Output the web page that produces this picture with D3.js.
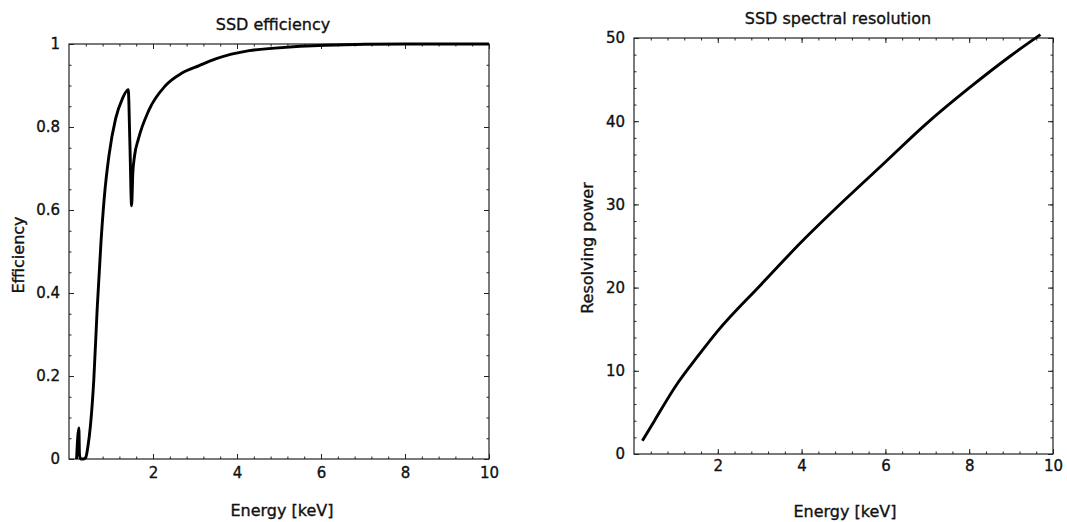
<!DOCTYPE html>
<meta charset="utf-8">
<style>
body { margin: 0; background: #fff; }
svg text { font-family: "DejaVu Sans", sans-serif; fill: #111; stroke: #111; stroke-width: 0.35px; }
.axis path { display: none; }
.axis line { stroke: #222; stroke-width: 1px; }
.axis text { font-size: 15px; }
.frame { fill: none; stroke: #222; stroke-width: 1.2px; }
.curve { fill: none; stroke: #000; stroke-width: 2.9px; stroke-linejoin: round; }
.title, .label { font-size: 16px; }
</style>
<svg width="1067" height="522"></svg>
<script src="https://cdn.jsdelivr.net/npm/d3@7"></script>
<script>
// efficiency curve
var effEnergy = [0.18, 0.235, 0.25, 0.28, 0.34, 0.40, 0.45, 0.51, 0.59, 0.67, 0.76, 0.84, 0.95, 1.11, 1.27, 1.41, 1.45, 1.49, 1.52, 1.56, 1.65, 1.9, 2.3, 2.69, 3.1, 3.49, 4.29, 4.9, 6.1, 8, 10];
var effValue  = [0, 0.075, 0.01, 0.0, 0.0, 0.004, 0.03, 0.08, 0.19, 0.36, 0.52, 0.63, 0.73, 0.82, 0.868, 0.89, 0.76, 0.61, 0.69, 0.73, 0.77, 0.84, 0.90, 0.93, 0.948, 0.964, 0.984, 0.99, 0.997, 1.0, 1.0];

// resolving power
var resEnergy = [0.2, 0.5, 1, 1.5, 2, 3, 4, 5, 6, 7, 8, 9, 9.7];
var resValue  = [1.6, 4.1, 8.2, 11.6, 14.8, 20.2, 25.5, 30.4, 35.1, 39.8, 44.0, 47.9, 50.4];

var xTicks = [2, 4, 6, 8, 10];
var xMinor = d3.range(0.4, 10, 0.4);
var effTicks = [0, 0.2, 0.4, 0.6, 0.8, 1];
var effMinor = d3.range(0.05, 1, 0.05);
var resTicks = [0, 10, 20, 30, 40, 50];
var resMinor = d3.range(2, 50, 2);

var svg = d3.select("svg");

function panel(o) {
  var x = d3.scaleLinear().domain([0, 10]).range([o.left, o.right]);
  var y = d3.scaleLinear().domain(o.yDomain).range([o.bottom, o.top]);
  var g = svg.append("g");

  g.append("rect").attr("class", "frame")
    .attr("x", o.left).attr("y", o.top)
    .attr("width", o.right - o.left).attr("height", o.bottom - o.top);

  // major ticks with labels, bottom and left
  g.append("g").attr("class", "axis")
    .attr("transform", "translate(0," + o.bottom + ")")
    .call(d3.axisBottom(x).tickValues(xTicks).tickSize(-5).tickPadding(o.xPad).tickFormat(String));
  g.append("g").attr("class", "axis")
    .attr("transform", "translate(" + o.left + ",0)")
    .call(d3.axisLeft(y).tickValues(o.yTicks).tickSize(-5).tickPadding(9).tickFormat(String));

  // mirrored ticks on top and right
  g.append("g").attr("class", "axis")
    .attr("transform", "translate(0," + o.top + ")")
    .call(d3.axisTop(x).tickValues(xTicks).tickSize(-5).tickFormat(""));
  g.append("g").attr("class", "axis")
    .attr("transform", "translate(" + o.right + ",0)")
    .call(d3.axisRight(y).tickValues(o.yTicks).tickSize(-5).tickFormat(""));

  // minor ticks
  [[d3.axisBottom(x).tickValues(xMinor), "0," + o.bottom],
   [d3.axisTop(x).tickValues(xMinor), "0," + o.top],
   [d3.axisLeft(y).tickValues(o.yMinor), o.left + ",0"],
   [d3.axisRight(y).tickValues(o.yMinor), o.right + ",0"]].forEach(function(a) {
    g.append("g").attr("class", "axis")
      .attr("transform", "translate(" + a[1] + ")")
      .call(a[0].tickSize(-2.5).tickFormat(""));
  });

  var pts = o.xs.map(function(d, i) { return [d, o.ys[i]]; });
  var line = d3.line()
    .x(function(d) { return x(d[0]); })
    .y(function(d) { return y(d[1]); })
    .curve(d3.curveMonotoneX);
  g.append("path").datum(pts).attr("class", "curve").attr("d", line);

  g.append("text").attr("class", "title")
    .attr("x", o.titleX).attr("y", o.titleY)
    .attr("text-anchor", "middle").text(o.title);
  g.append("text").attr("class", "label")
    .attr("x", o.xLabelX).attr("y", o.xLabelY)
    .attr("text-anchor", "middle").text("Energy [keV]");
  g.append("text").attr("class", "label")
    .attr("transform", "translate(" + o.yLabelX + "," + o.yLabelY + ") rotate(-90)")
    .attr("text-anchor", "middle").attr("dy", "0.35em").text(o.yLabel);
}

panel({
  left: 69, right: 489, top: 44, bottom: 459,
  yDomain: [0, 1], yTicks: effTicks, yMinor: effMinor, xPad: 8,
  xs: effEnergy, ys: effValue,
  title: "SSD efficiency", titleX: 273, titleY: 30,
  xLabelX: 282, xLabelY: 516,
  yLabel: "Efficiency", yLabelX: 18, yLabelY: 255
});

panel({
  left: 634, right: 1053, top: 38, bottom: 454,
  yDomain: [0, 50], yTicks: resTicks, yMinor: resMinor, xPad: 6,
  xs: resEnergy, ys: resValue,
  title: "SSD spectral resolution", titleX: 838, titleY: 24,
  xLabelX: 845, xLabelY: 517,
  yLabel: "Resolving power", yLabelX: 587, yLabelY: 248
});
</script>
